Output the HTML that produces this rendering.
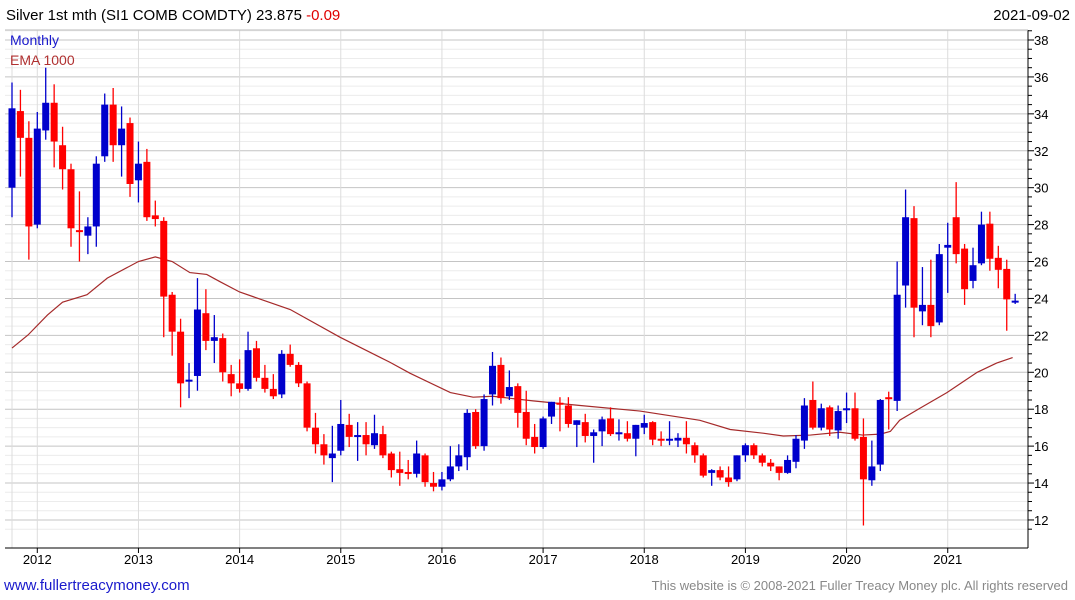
<!DOCTYPE html>
<html><head><meta charset="utf-8"><style>
body{margin:0;background:#fff;width:1075px;height:600px;overflow:hidden;font-family:"Liberation Sans",sans-serif}
svg{position:absolute;left:0;top:0}
</style></head><body>
<svg id="c" width="1075" height="600">
<text x="6" y="20" font-size="15" fill="#000">Silver 1st mth (SI1 COMB COMDTY) 23.875 <tspan fill="#e00000">-0.09</tspan></text>
<text x="1070" y="20" font-size="15" fill="#000" text-anchor="end">2021-09-02</text>
<text x="1068" y="590" font-size="13" fill="#888" text-anchor="end">This website is © 2008-2021 Fuller Treacy Money plc. All rights reserved</text>
<text x="4" y="590" font-size="15" fill="#1a1acc">www.fullertreacymoney.com</text>
</svg>
<script>
const opens=[30.0,34.15,32.7,28.0,33.1,34.6,32.3,31.0,27.7,27.4,27.9,31.7,34.5,32.3,33.5,30.4,31.4,28.5,28.2,24.2,22.2,19.5,19.8,23.2,21.7,21.85,19.9,19.4,19.1,21.3,19.7,19.1,18.8,21.0,20.4,19.4,17.0,16.1,15.35,15.75,17.15,16.5,16.6,16.05,16.65,15.6,14.75,14.6,14.5,15.5,14.0,13.8,14.2,14.9,15.4,17.85,16.0,18.8,20.4,18.7,19.25,17.85,16.5,15.95,17.6,18.35,18.2,17.15,17.3,16.55,16.8,17.5,16.7,16.7,16.4,17.0,17.3,16.4,16.3,16.3,16.45,16.05,15.5,14.55,14.7,14.3,14.2,15.5,16.05,15.5,15.1,14.9,14.55,15.15,16.3,18.5,17.0,18.1,16.85,17.95,18.05,16.5,14.15,15.0,18.65,18.45,24.7,28.35,23.3,23.65,22.7,26.75,28.4,26.7,24.95,25.9,28.05,26.2,25.6,23.8];
const highs=[35.7,35.3,33.6,34.1,36.5,35.6,33.3,31.3,29.8,28.4,31.7,35.1,35.4,34.4,33.8,32.5,32.1,29.3,28.4,24.35,22.9,20.5,25.1,24.5,23.1,22.1,20.4,20.7,22.2,21.7,20.4,19.9,21.2,21.5,20.55,19.5,17.8,16.65,17.1,18.5,17.75,17.3,17.3,17.7,17.1,15.7,15.7,15.25,16.3,15.6,14.6,14.6,16.0,16.1,18.0,18.0,18.8,21.1,20.8,20.1,19.4,19.0,17.2,17.6,18.4,18.65,18.65,17.4,17.75,16.9,17.6,18.1,17.45,17.35,17.15,17.7,17.35,16.8,17.35,16.7,17.35,16.2,15.6,14.75,14.9,14.9,15.5,16.15,16.15,15.6,15.3,14.9,15.5,16.6,18.6,19.5,18.3,18.2,18.2,18.9,18.9,17.5,16.3,18.55,18.95,26.0,29.9,29.0,25.7,26.1,26.95,28.1,30.3,26.95,26.75,28.7,28.7,26.85,26.1,24.25];
const lows=[28.4,30.6,26.1,27.8,32.6,31.1,29.9,26.8,26.0,26.4,26.8,31.4,31.4,30.6,29.5,29.2,28.2,27.9,21.9,20.9,18.1,18.6,19.0,21.2,20.5,19.5,18.7,18.9,19.0,19.5,18.9,18.55,18.6,20.3,19.2,16.8,15.6,15.0,14.05,15.5,15.95,15.2,15.5,15.85,15.35,14.3,13.85,14.2,14.3,13.8,13.55,13.6,14.1,14.65,14.7,15.85,15.75,18.2,18.3,18.5,17.0,16.05,15.6,15.85,17.2,16.8,17.0,15.95,16.2,15.1,16.0,16.55,16.3,16.25,15.45,16.65,16.05,16.0,16.05,15.95,15.6,15.1,14.3,13.85,14.15,13.8,14.1,15.15,15.3,14.9,14.65,14.15,14.5,14.8,15.85,16.9,16.85,16.55,16.4,17.25,16.3,11.7,13.85,14.65,16.9,17.9,23.5,21.9,22.55,21.9,22.55,24.3,25.9,23.65,24.55,25.8,25.5,24.55,22.25,23.7];
const closes=[34.3,32.7,27.9,33.2,34.6,32.5,31.0,27.8,27.6,27.9,31.3,34.5,32.3,33.2,30.2,31.3,28.4,28.3,24.1,22.2,19.4,19.6,23.4,21.7,21.9,20.0,19.4,19.1,21.2,19.7,19.1,18.7,21.0,20.4,19.4,17.0,16.1,15.5,15.6,17.2,16.5,16.6,16.1,16.7,15.5,14.7,14.55,14.5,15.6,14.05,13.8,14.2,14.9,15.5,17.8,16.0,18.55,20.35,18.6,19.2,17.8,16.4,15.95,17.5,18.4,18.25,17.2,17.4,16.55,16.75,17.45,16.65,16.75,16.4,17.15,17.25,16.35,16.3,16.4,16.45,16.1,15.5,14.4,14.7,14.3,14.05,15.5,16.05,15.5,15.1,14.9,14.55,15.25,16.4,18.2,17.0,18.05,16.9,17.9,18.05,16.4,14.2,14.9,18.5,18.6,24.2,28.4,23.5,23.65,22.5,26.4,26.9,26.4,24.5,25.8,28.0,26.15,25.55,23.95,23.88];
const emaMonths=[0,1.9,4.2,6,8.9,11.3,15,17,19,21.1,23.1,24.7,27,33,38.9,44.8,47.2,52,54.7,57,61.8,67.4,74.5,81.6,85.2,89.1,91.5,94.7,98.2,100.9,103,104.2,105.3,107.7,110.9,114.5,116.8,118.7];
const emaValues=[21.31,22.02,23.1,23.8,24.2,25.1,26.0,26.25,26.0,25.4,25.3,24.9,24.35,23.4,21.9,20.55,19.95,18.9,18.65,18.7,18.45,18.2,17.9,17.4,16.9,16.7,16.55,16.6,16.75,16.6,16.65,16.8,17.4,18.05,18.9,20.0,20.5,20.8];
const yTicks=[12,14,16,18,20,22,24,26,28,30,32,34,36,38];
const yearLabels=["2012","2013","2014","2015","2016","2017","2018","2019","2020","2021"];

const NS="http://www.w3.org/2000/svg";
const svg=document.getElementById('c');
const L=5,R=1028,T=30,B=548;
const x=i=>12+i*8.43;
const y=p=>40+(38-p)*18.46;
function mk(t,a,parent){const e=document.createElementNS(NS,t);for(const k in a)e.setAttribute(k,a[k]);(parent||svg).insertBefore(e,svg.firstChild?null:null);(parent||svg).appendChild(e);return e;}
const grid=mk('g',{});


for(let p=11.5;p<=38.6;p+=0.5){const major=Math.abs(p/2-Math.round(p/2))<1e-6;
 const ln=mk('line',{x1:L,x2:R,y1:y(p),y2:y(p),stroke:major?'#c4c4c4':'#ececec','stroke-width':1},grid);
 
 
 const tk=mk('line',{x1:R,x2:R+(major?6:4),y1:y(p),y2:y(p),stroke:'#000'},grid);
 
 }
{const ln=mk('line',{x1:x(0),x2:x(0),y1:T,y2:B,stroke:'#dcdcdc'},grid);
 
 }
yearLabels.forEach((lab,k)=>{const xi=x(3+12*k);
 const ln=mk('line',{x1:xi,x2:xi,y1:T,y2:B,stroke:'#dcdcdc'},grid);
 
 
 const tk=mk('line',{x1:xi,x2:xi,y1:B,y2:B+5,stroke:'#000'},grid);
 
 
 const t=mk('text',{x:xi,y:B+16,'font-size':13,'text-anchor':'middle',fill:'#000'});
 t.textContent=lab;
 
 });
yTicks.forEach(v=>{const t=mk('text',{x:R+6,y:y(v)+5,'font-size':13,fill:'#000'});
 t.textContent=v;
 
 });
const ax=mk('line',{x1:R,x2:R,y1:T,y2:B,stroke:'#000'});


const bx=mk('line',{x1:L,x2:R,y1:B,y2:B,stroke:'#000'});


const tx=mk('line',{x1:L,x2:R,y1:T,y2:T,stroke:'#bbb'});


// EMA
const pts=emaMonths.map((m,i)=>x(m)+','+y(emaValues[i])).join(' ');
const ema=mk('polyline',{points:pts,fill:'none',stroke:'#a52a2a','stroke-width':1.2});


// candles
opens.forEach((o,i)=>{const c=closes[i],up=c>=o,col=up?'#0000cc':'#ff0000',cx=x(i);
 const g=mk('g',{});
 
 
 mk('line',{x1:cx,x2:cx,y1:y(highs[i]),y2:y(lows[i]),stroke:col,'stroke-width':1.3},g);
 const top=y(Math.max(o,c)),h=Math.max(2,Math.abs(y(o)-y(c)));
 mk('rect',{x:cx-3.5,y:top,width:7,height:h,fill:col},g);});
const l1=mk('text',{x:10,y:45,'font-size':14,fill:'#1a1acc'});
l1.textContent='Monthly';


const l2=mk('text',{x:10,y:65,'font-size':14,fill:'#b03030'});
l2.textContent='EMA 1000';


</script>
</body></html>
